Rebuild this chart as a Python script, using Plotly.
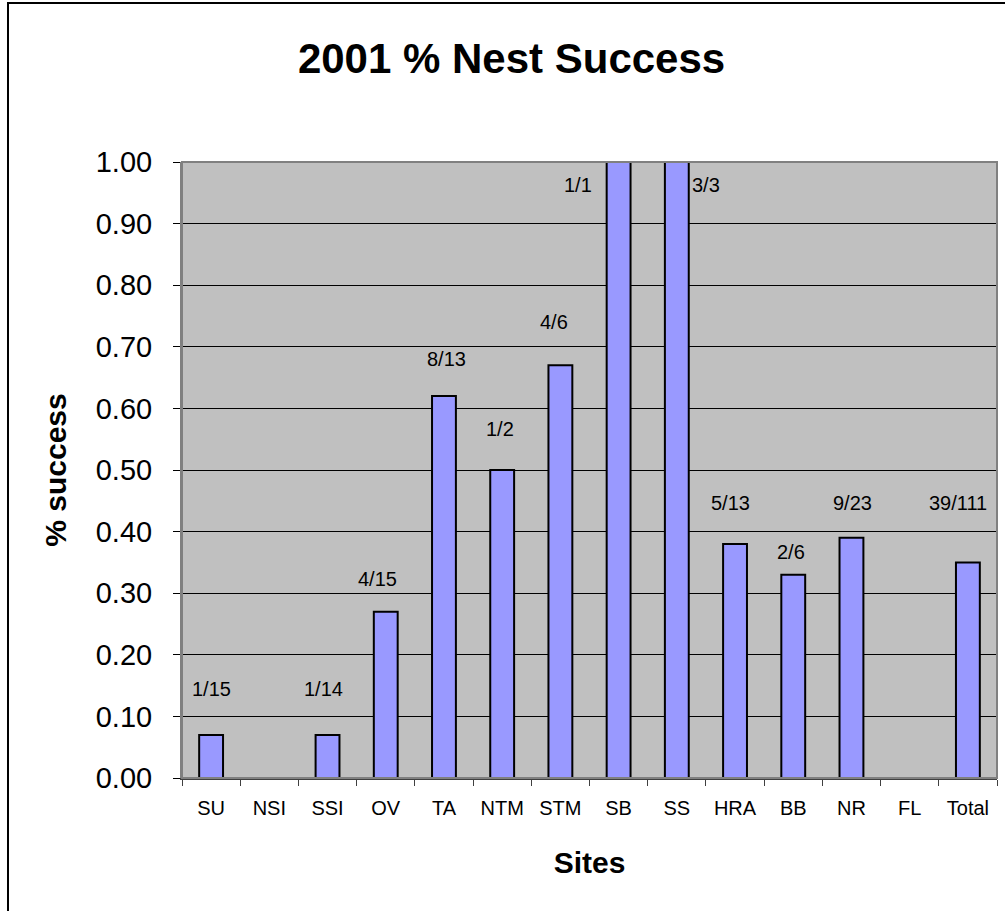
import plotly.graph_objects as go

# Nest success per site, 2001
sites = ["SU", "NSI", "SSI", "OV", "TA", "NTM", "STM", "SB", "SS", "HRA", "BB", "NR", "FL", "Total"]
success = [0.07, 0.0, 0.07, 0.27, 0.62, 0.50, 0.67, 1.00, 1.00, 0.38, 0.33, 0.39, 0.0, 0.35]
nest_counts = ["1/15", "", "1/14", "4/15", "8/13", "1/2", "4/6", "1/1", "3/3", "5/13", "2/6", "9/23", "", "39/111"]

# Label placement relative to the top centre of each bar, in pixels
label_dy = [46, 0, 46, 33, 37, 41, 43, -23, -23, 41, 23, 35, 0, 59]
label_dx = [0, 0, -4, -8, 3, -2, -6, -41, 29, -5, -2, 1, 0, -10]

FONT = "Liberation Sans, Arial, sans-serif"

fig = go.Figure(
    go.Bar(
        x=sites,
        y=success,
        marker=dict(color="#9999FF", line=dict(color="black", width=2)),
        hoverinfo="x+y",
    )
)

for s, v, t, dy, dx in zip(sites, success, nest_counts, label_dy, label_dx):
    if not t:
        continue
    fig.add_annotation(
        x=s, y=v, text=t, showarrow=False,
        yanchor="middle", xanchor="center",
        yshift=dy, xshift=dx,
        font=dict(family=FONT, size=20, color="black"),
    )

# Plot area frame
fig.add_shape(type="rect", xref="paper", yref="paper", x0=0, y0=0, x1=1, y1=1,
              line=dict(color="#808080", width=2), layer="above")
# Chart area frame
fig.add_shape(type="rect", xref="paper", yref="paper", x0=-0.2135, y0=-0.5, x1=1.2, y1=1.258,
              line=dict(color="black", width=2), layer="above")

fig.update_layout(
    width=1005, height=911,
    margin=dict(l=182, r=8, t=162, b=133),
    paper_bgcolor="white",
    plot_bgcolor="#C0C0C0",
    bargap=0.59,
    showlegend=False,
    font=dict(family=FONT, color="black"),
    title=dict(
        text="<b>2001 % Nest Success</b>",
        x=0.509, xanchor="center", y=0.936, yanchor="middle",
        font=dict(family=FONT, size=42, color="black"),
    ),
    xaxis=dict(
        type="category",
        showgrid=False,
        showline=True, linecolor="#404040", linewidth=2,
        ticks="outside", ticklen=6, tickcolor="#404040", tickwidth=1,
        tickson="boundaries",
        ticklabelstandoff=11,
        tickfont=dict(family=FONT, size=20, color="black"),
        title=dict(text="<b>Sites</b>", standoff=34,
                   font=dict(family=FONT, size=30, color="black")),
    ),
    yaxis=dict(
        range=[0, 1],
        dtick=0.1, tick0=0,
        tickformat=".2f",
        showgrid=True, gridcolor="black", gridwidth=1,
        zeroline=False,
        showline=True, linecolor="#808080", linewidth=2,
        ticks="outside", ticklen=7, tickcolor="black", tickwidth=1,
        ticklabelstandoff=15,
        tickfont=dict(family=FONT, size=29, color="black"),
        title=dict(text="<b>% success</b>", standoff=20,
                   font=dict(family=FONT, size=30, color="black")),
    ),
)

fig.write_html("out.html")
